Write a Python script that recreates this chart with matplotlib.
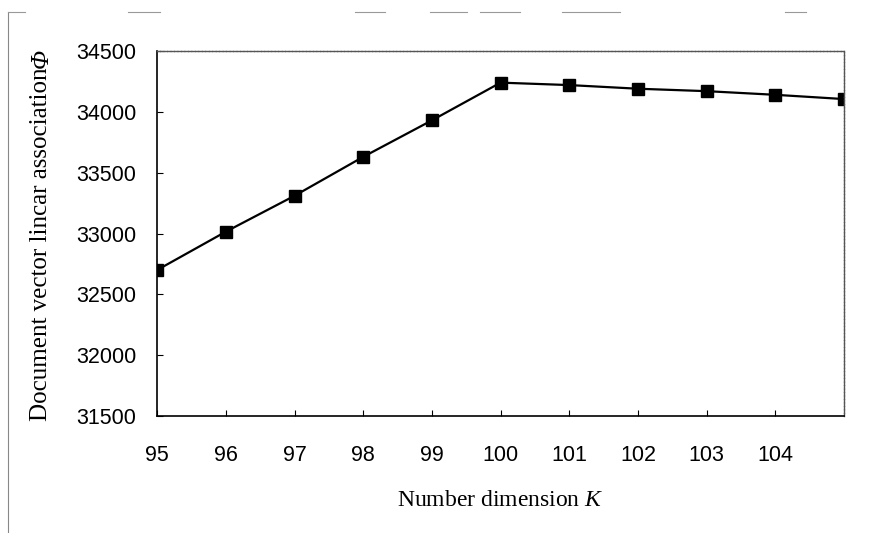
import matplotlib.pyplot as plt
from matplotlib.lines import Line2D

# data
k_values = [95, 96, 97, 98, 99, 100, 101, 102, 103, 104, 105]
phi_values = [32700, 33015, 33310, 33630, 33930, 34240, 34220, 34190, 34170, 34140, 34105]
x_ticks = [95, 96, 97, 98, 99, 100, 101, 102, 103, 104]
y_ticks = [31500, 32000, 32500, 33000, 33500, 34000, 34500]

plt.rcParams['mathtext.fontset'] = 'custom'
plt.rcParams['mathtext.rm'] = 'Liberation Serif'
plt.rcParams['mathtext.it'] = 'Liberation Serif:italic'

fig = plt.figure(figsize=(8.73, 5.33), dpi=100)
ax = fig.add_axes([0.18, 0.2195, 0.7868, 0.6848])

ax.plot(k_values, phi_values, color='black', linewidth=1.6,
        marker='s', markersize=8.5, markerfacecolor='black', markeredgecolor='black')

ax.set_xlim(95, 105)
ax.set_ylim(31500, 34500)
ax.set_xticks(x_ticks)
ax.set_yticks(y_ticks)

for lab in ax.get_xticklabels() + ax.get_yticklabels():
    lab.set_fontfamily('Liberation Sans')
    lab.set_fontsize(15.5)

ax.tick_params(direction='in', length=4, width=0.8, colors='black')
ax.tick_params(axis='x', pad=21)
ax.tick_params(axis='y', pad=15)

ax.spines['left'].set_color('black')
ax.spines['bottom'].set_color('black')
ax.spines['left'].set_linewidth(1.2)
ax.spines['bottom'].set_linewidth(1.2)
for side in ['top', 'right']:
    ax.spines[side].set_color('#555555')
    ax.spines[side].set_linewidth(1.0)
    ax.spines[side].set_linestyle((0, (2, 0.5)))

ax.set_xlabel('Number dimension $\\mathit{K}$', fontfamily='Liberation Serif',
              fontsize=17, labelpad=17)
ax.set_ylabel('Document vector lincar association',
              fontfamily='Liberation Serif', fontsize=18, labelpad=17)
ax.yaxis.label.set_y(0.47)
# italic Phi appended after the y label (mathtext keeps Greek capitals upright)
ax.annotate('Φ', xy=(0.5, 1), xycoords=ax.yaxis.label, rotation=90,
            ha='center', va='bottom', fontfamily='Liberation Serif',
            fontstyle='italic', fontsize=18)

# scan border around the figure
fig.add_artist(Line2D([8 / 873, 8 / 873], [0, 1 - 12 / 533], transform=fig.transFigure,
                      color='#888888', linewidth=0.8))
for x0, x1 in [(8, 25), (128, 160), (355, 385), (430, 467), (480, 520),
               (562, 620), (785, 806)]:
    fig.add_artist(Line2D([x0 / 873, x1 / 873], [1 - 12 / 533, 1 - 12 / 533],
                          transform=fig.transFigure, color='#999999', linewidth=0.8))

fig.savefig('out.png', dpi=100)
